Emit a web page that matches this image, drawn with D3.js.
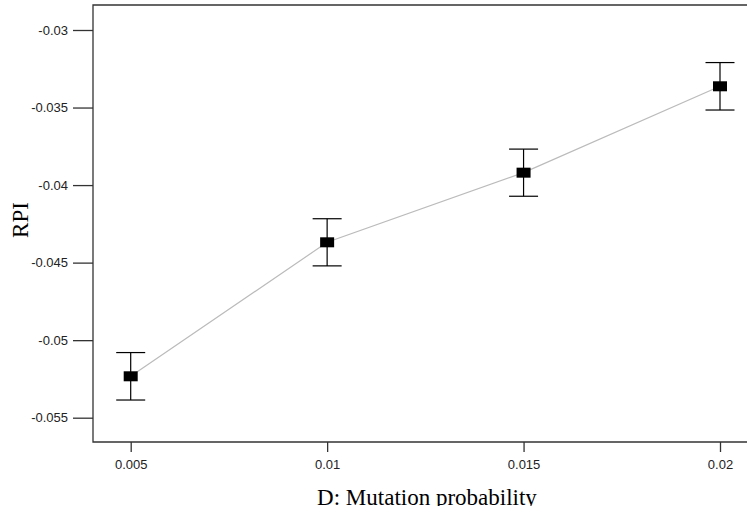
<!DOCTYPE html>
<html>
<head>
<meta charset="utf-8">
<script src="https://cdn.jsdelivr.net/npm/d3@7"></script>
<style>
  body { margin: 0; background: #fff; }
  svg { display: block; }
  .tick text { font-family: "Liberation Sans", Arial, sans-serif; font-size: 13px; fill: #222; }
  .axis-title { font-family: "Liberation Serif", "Times New Roman", serif; font-size: 23px; fill: #000; }
</style>
</head>
<body>
<svg id="chart"></svg>
<script>
// mutation probability levels and mean RPI with error half-width
const mutation = [0.005, 0.01, 0.015, 0.02];
const rpi = [-0.05233, -0.04369, -0.0392, -0.03363];
const err = [0.00153, 0.00152, 0.00152, 0.00153];

const xTicks = [0.005, 0.01, 0.015, 0.02];
const xTickLabels = ["0.005", "0.01", "0.015", "0.02"];
const yTicks = [-0.03, -0.035, -0.04, -0.045, -0.05, -0.055];
const yTickLabels = ["-0.03", "-0.035", "-0.04", "-0.045", "-0.05", "-0.055"];

const svg_size = {width: 747, height: 511};
const frame = {left: 93, top: 5, right: 760, bottom: 442};

const svg = d3.select("#chart")
    .attr("width", svg_size.width)
    .attr("height", svg_size.height);

const x = d3.scaleLinear().domain([0.005, 0.02]).range([130.7, 720]);
const y = d3.scaleLinear().domain([-0.03, -0.055]).range([30, 417.7]);

// frame (right side runs off the picture)
svg.append("path")
    .attr("d", `M${frame.right},${frame.top}H${frame.left}V${frame.bottom}H${frame.right}`)
    .attr("fill", "none")
    .attr("stroke", "#333")
    .attr("stroke-width", 1.3);

const yAxis = d3.axisLeft(y)
    .tickValues(yTicks)
    .tickFormat((d, i) => yTickLabels[i])
    .tickSize(20)
    .tickPadding(5);
svg.append("g")
    .attr("transform", `translate(${frame.left},0)`)
    .call(yAxis)
    .call(g => g.select(".domain").remove())
    .call(g => g.selectAll(".tick line").attr("stroke", "#333").attr("stroke-width", 1.3));

const xAxis = d3.axisBottom(x)
    .tickValues(xTicks)
    .tickFormat((d, i) => xTickLabels[i])
    .tickSize(10)
    .tickPadding(8);
svg.append("g")
    .attr("transform", `translate(0,${frame.bottom})`)
    .call(xAxis)
    .call(g => g.select(".domain").remove())
    .call(g => g.selectAll(".tick line").attr("stroke", "#333").attr("stroke-width", 1.3));

const data = mutation.map((m, i) => ({m: m, v: rpi[i], e: err[i]}));

// connecting line
const line = d3.line()
    .x(d => x(d.m))
    .y(d => y(d.v));
svg.append("path")
    .datum(data)
    .attr("d", line)
    .attr("fill", "none")
    .attr("stroke", "#bbb")
    .attr("stroke-width", 1.2);

// error bars
const bars = svg.append("g")
    .attr("stroke", "#000")
    .attr("stroke-width", 1.2);
data.forEach(d => {
    const cx = x(d.m);
    bars.append("line")
        .attr("x1", cx).attr("x2", cx)
        .attr("y1", y(d.v + d.e)).attr("y2", y(d.v - d.e));
    bars.append("line")
        .attr("x1", cx - 14.5).attr("x2", cx + 14.5)
        .attr("y1", y(d.v + d.e)).attr("y2", y(d.v + d.e));
    bars.append("line")
        .attr("x1", cx - 14.5).attr("x2", cx + 14.5)
        .attr("y1", y(d.v - d.e)).attr("y2", y(d.v - d.e));
});

// square markers
svg.append("g")
    .selectAll("rect")
    .data(data)
    .enter()
    .append("rect")
    .attr("x", d => x(d.m) - 7)
    .attr("y", d => y(d.v) - 5)
    .attr("width", 14)
    .attr("height", 10)
    .attr("fill", "#000");

// axis titles
svg.append("text")
    .attr("class", "axis-title")
    .attr("transform", "translate(28,220) rotate(-90)")
    .attr("text-anchor", "middle")
    .text("RPI");

svg.append("clipPath")
    .attr("id", "bottom-clip")
    .append("rect")
    .attr("x", 0).attr("y", 0)
    .attr("width", svg_size.width).attr("height", 506);

svg.append("text")
    .attr("class", "axis-title")
    .attr("clip-path", "url(#bottom-clip)")
    .attr("x", 427)
    .attr("y", 505)
    .attr("text-anchor", "middle")
    .text("D: Mutation probability");
</script>
</body>
</html>
